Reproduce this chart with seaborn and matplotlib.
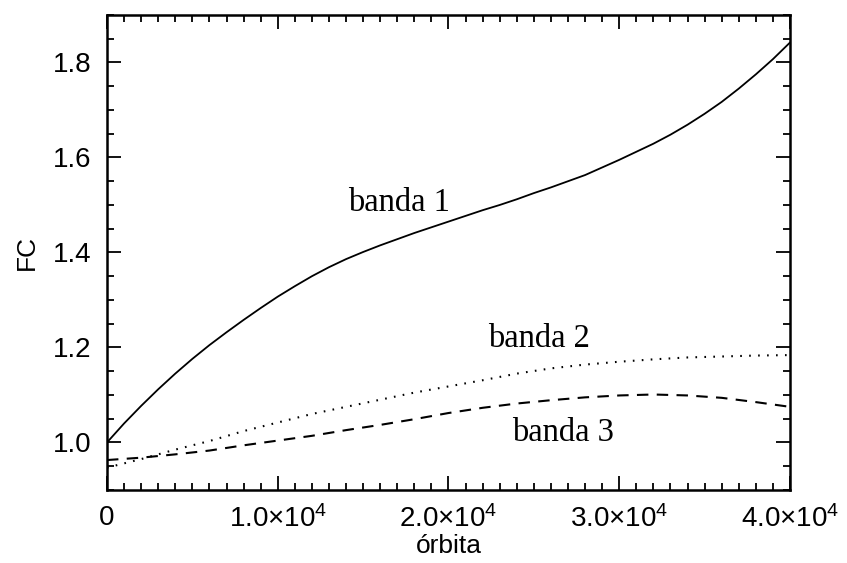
import numpy as np
import pandas as pd
import matplotlib
matplotlib.use("Agg")
import matplotlib.pyplot as plt
from matplotlib.ticker import MultipleLocator, FixedLocator, FixedFormatter
import seaborn as sns

# --- DATA ---
orbita_fine = [0, 1000, 2000, 3000, 4000, 5000, 6000, 7000, 8000, 9000, 10000,
               11000, 12000, 13000, 14000, 15000, 16000, 17000, 18000, 19000, 20000,
               21000, 22000, 23000, 24000, 25000, 26000, 27000, 28000, 29000, 30000,
               31000, 32000, 33000, 34000, 35000, 36000, 37000, 38000, 39000, 40000]
banda1 = [1.000, 1.040, 1.077, 1.112, 1.145, 1.176, 1.205, 1.232, 1.258, 1.283, 1.307,
          1.329, 1.350, 1.369, 1.386, 1.401, 1.415, 1.428, 1.441, 1.453, 1.465,
          1.477, 1.489, 1.500, 1.512, 1.525, 1.537, 1.550, 1.563, 1.579, 1.595,
          1.612, 1.629, 1.648, 1.669, 1.692, 1.717, 1.745, 1.775, 1.807, 1.842]

orbita = [0, 2000, 4000, 6000, 8000, 10000, 12000, 14000, 16000, 18000, 20000,
          22000, 24000, 26000, 28000, 30000, 32000, 34000, 36000, 38000, 40000]
banda2 = [0.947, 0.965, 0.985, 1.003, 1.024, 1.042, 1.060, 1.075, 1.090, 1.105, 1.118,
          1.131, 1.145, 1.156, 1.164, 1.170, 1.175, 1.179, 1.181, 1.183, 1.184]
banda3 = [0.963, 0.968, 0.975, 0.983, 0.994, 1.004, 1.014, 1.026, 1.037, 1.049, 1.062,
          1.073, 1.082, 1.089, 1.095, 1.099, 1.101, 1.099, 1.094, 1.085, 1.075]

xtick_vals = [0, 10000, 20000, 30000, 40000]
xtick_labels = ['0', '1.0×10$^4$', '2.0×10$^4$', '3.0×10$^4$', '4.0×10$^4$']
ytick_vals = [1.0, 1.2, 1.4, 1.6, 1.8]
ytick_labels = ['1.0', '1.2', '1.4', '1.6', '1.8']

# --- STYLE ---
sns.set_style("ticks")
plt.rcParams['font.family'] = ['Liberation Sans', 'DejaVu Sans']
plt.rcParams['mathtext.default'] = 'regular'
plt.rcParams['text.color'] = 'black'
plt.rcParams['axes.labelcolor'] = 'black'

fig = plt.figure(figsize=(8.47, 5.63), dpi=100)
ax = fig.add_axes([0.1263, 0.1297, 0.8064, 0.8437])

df1 = pd.DataFrame({'orbita': orbita_fine, 'FC': banda1})
df23 = pd.DataFrame({'orbita': orbita, 'b2': banda2, 'b3': banda3})
sns.lineplot(data=df1, x='orbita', y='FC', ax=ax, color='black', lw=1.3, linestyle='-')
sns.lineplot(data=df23, x='orbita', y='b2', ax=ax, color='black', lw=1.5,
             linestyle=(0, (0.8, 3.5)))
sns.lineplot(data=df23, x='orbita', y='b3', ax=ax, color='black', lw=1.5,
             linestyle=(0, (5.5, 4)))

ax.set_xlim(0, 40000)
ax.set_ylim(0.9, 1.9)

ax.xaxis.set_major_locator(FixedLocator(xtick_vals))
ax.xaxis.set_major_formatter(FixedFormatter(xtick_labels))
ax.xaxis.set_minor_locator(MultipleLocator(1000))
ax.yaxis.set_major_locator(FixedLocator(ytick_vals))
ax.yaxis.set_major_formatter(FixedFormatter(ytick_labels))
ax.yaxis.set_minor_locator(MultipleLocator(0.05))

ax.tick_params(which='both', direction='in', top=True, right=True,
               color='black', width=1.3, labelsize=20, labelcolor='black')
ax.tick_params(which='major', length=10, pad=11)
ax.tick_params(which='minor', length=5)

for s in ax.spines.values():
    s.set_visible(True)
    s.set_linewidth(1.8)
    s.set_color('black')

ax.set_xlabel('órbita', fontsize=19, labelpad=1)
ax.set_ylabel('FC', fontsize=19, labelpad=10)

serif = ['Liberation Serif', 'DejaVu Serif']
ax.text(17100, 1.505, 'banda 1', family=serif, fontsize=23.5, ha='center', va='center')
ax.text(25300, 1.219, 'banda 2', family=serif, fontsize=23.5, ha='center', va='center')
ax.text(26700, 1.021, 'banda 3', family=serif, fontsize=23.5, ha='center', va='center')

fig.savefig('out.png', dpi=100)
